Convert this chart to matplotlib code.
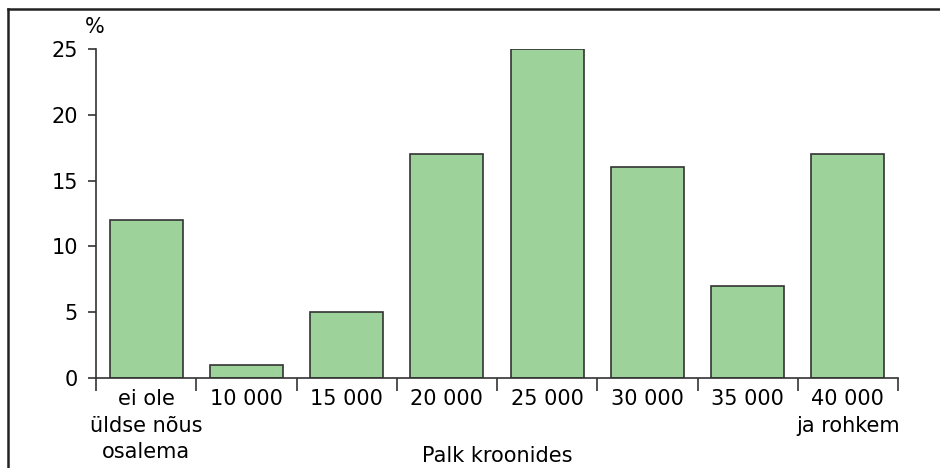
import matplotlib.pyplot as plt
from matplotlib.lines import Line2D

categories = ["ei ole\nüldse nõus\nosalema", "10 000", "15 000", "20 000",
              "25 000", "30 000", "35 000", "40 000\nja rohkem"]
values = [12, 1, 5, 17, 25, 16, 7, 17]
yticks = [0, 5, 10, 15, 20, 25]

plt.rcParams["font.family"] = ["DejaVu Sans"]
fig = plt.figure(figsize=(9.4, 4.68), dpi=100)
ax = fig.add_axes([96/940, 1-378/468, (898-96)/940, (378-49)/468])

x = list(range(len(categories)))
ax.bar(x, values, width=0.73, color="#9dd39b", edgecolor="#333333", linewidth=1.2)

ax.set_xlim(-0.5, len(categories)-0.5)
ax.set_ylim(0, 25)
ax.set_yticks(yticks)
ax.tick_params(axis="y", direction="out", length=6, width=1.2, labelsize=15, pad=7, color="#333333")

# boundary ticks (major) and labels at centers (minor)
ax.set_xticks([i-0.5 for i in range(len(categories)+1)])
ax.set_xticklabels([])
ax.set_xticks(x, minor=True)
ax.set_xticklabels(categories, minor=True, fontsize=15, linespacing=1.4)
ax.tick_params(axis="x", which="major", direction="out", length=9, width=1.2, color="#333333")
ax.tick_params(axis="x", which="minor", length=0, pad=8)

for s in ["top", "right"]:
    ax.spines[s].set_visible(False)
for s in ["left", "bottom"]:
    ax.spines[s].set_linewidth(1.2)
    ax.spines[s].set_color("#333333")

fig.text(95/940, 1-27/468, "%", fontsize=15, ha="center", va="center")
fig.text(497/940, 1-456/468, "Palk kroonides", fontsize=15, ha="center", va="center")

# outer frame (left and top edges)
fig.add_artist(Line2D([8/940, 8/940], [0, 1-9/468], transform=fig.transFigure, color="#222222", lw=1.8))
fig.add_artist(Line2D([8/940, 1], [1-9/468, 1-9/468], transform=fig.transFigure, color="#222222", lw=1.8))

fig.savefig("out.png", dpi=100)
